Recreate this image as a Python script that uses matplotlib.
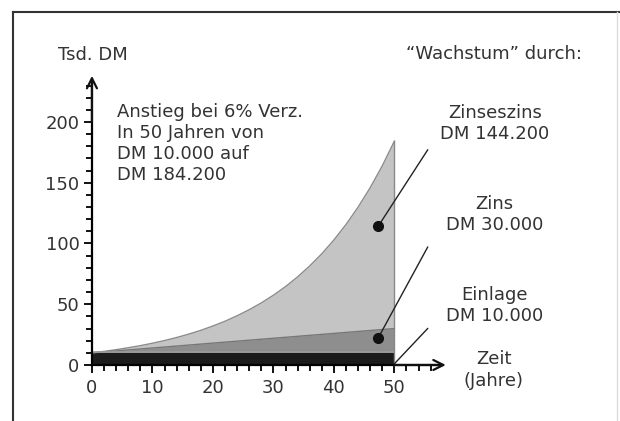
import matplotlib.pyplot as plt
from matplotlib.lines import Line2D
from matplotlib.ticker import MultipleLocator

# values (Tsd. DM)
years = [0, 2, 4, 6, 8, 10, 12, 14, 16, 18, 20, 22, 24, 26, 28, 30,
         32, 34, 36, 38, 40, 42, 44, 46, 48, 50]
total = [10.0, 11.2, 12.6, 14.2, 15.9, 17.9, 20.1, 22.6, 25.4, 28.5, 32.1,
         36.0, 40.5, 45.5, 51.1, 57.4, 64.5, 72.5, 81.5, 91.5, 102.9,
         115.6, 129.9, 145.9, 163.9, 184.2]
zins_years = [0, 50]
zins_top = [10.0, 30.0]
einlage_years = [0, 50]
einlage = [10.0, 10.0]

labels_right = ['Zinseszins\nDM 144.200', 'Zins\nDM 30.000', 'Einlage\nDM 10.000']

plt.rcParams['font.family'] = 'DejaVu Sans'
fig = plt.figure(figsize=(6.2, 4.21), dpi=100)
ax = fig.add_axes([0, 0, 1, 1])
ax.set_xlim(-15.2, 87.3)
ax.set_ylim(-46.1, 300.4)

# stacked areas
ax.fill_between(years, 0, total, color='#c4c4c4', lw=0)
ax.fill_between(zins_years, 0, zins_top, color='#8e8e8e', lw=0)
ax.fill_between(einlage_years, 0, einlage, color='#1c1c1c', lw=0)
ax.plot(years, total, color='#8a8a8a', lw=1)
ax.plot(zins_years, zins_top, color='#777777', lw=1)
ax.plot(einlage_years, [v + 0.7 for v in einlage], color='#9c9c9c', lw=1.2)
ax.plot([50, 50], [0, total[-1]], color='#888888', lw=1)

# axes
for s in ['top', 'right']:
    ax.spines[s].set_visible(False)
ax.spines['left'].set_position(('data', 0))
ax.spines['bottom'].set_position(('data', 0))
ax.spines['left'].set_bounds(0, 232)
ax.spines['bottom'].set_bounds(0, 57)
ax.spines['left'].set_linewidth(1.6)
ax.spines['bottom'].set_linewidth(1.6)
ax.set_xticks([0, 10, 20, 30, 40, 50])
ax.set_yticks([0, 50, 100, 150, 200])
ax.tick_params(which='both', direction='out', width=1.4, colors='#111111',
               labelsize=13, labelcolor='#333333')
ax.tick_params(which='major', length=6)
ax.tick_params(which='minor', length=4.5)
ax.tick_params(axis='x', pad=4)
ax.tick_params(axis='y', pad=3)
# minor ticks only along the drawn axis
ax.set_xticks([t for t in range(2, 57, 2) if t % 10], minor=True)
ax.set_yticks([t for t in range(10, 231, 10) if t % 50], minor=True)

ax.annotate('', xy=(0, 238), xytext=(0, 200),
            arrowprops=dict(arrowstyle='->', lw=1.6, color='#111111',
                            mutation_scale=18, shrinkA=0, shrinkB=0))
ax.annotate('', xy=(58.5, 0), xytext=(50, 0),
            arrowprops=dict(arrowstyle='->', lw=1.6, color='#111111',
                            mutation_scale=18, shrinkA=0, shrinkB=0))

# leader lines and dots
ax.plot([47.3, 55.5], [114, 177], color='#222222', lw=1)
ax.plot([47.3, 55.5], [22, 97], color='#222222', lw=1)
ax.plot([50, 55.5], [1, 30], color='#222222', lw=1)
ax.plot([47.3, 47.3], [114, 22], 'o', color='#111111', ms=7, ls='none')

txt = dict(color='#333333', fontsize=13)
ax.text(-5.6, 255, 'Tsd. DM', ha='left', va='center', **txt)
ax.text(66.4, 256, '\u201cWachstum\u201d durch:', ha='center', va='center', **txt)
ax.text(4.1, 182, 'Anstieg bei 6% Verz.\nIn 50 Jahren von\nDM 10.000 auf\nDM 184.200',
        ha='left', va='center', linespacing=1.22, **txt)
for lab, yy in zip(labels_right, [198.4, 123.9, 49]):
    ax.text(66.6, yy, lab, ha='center', va='center', linespacing=1.22, **txt)
ax.text(66.4, -4.1, 'Zeit\n(Jahre)', ha='center', va='center', linespacing=1.22, **txt)

# outer frame
fig.add_artist(Line2D([0.021, 1.0], [0.9715, 0.9715], color='#333333', lw=1.5))
fig.add_artist(Line2D([0.021, 0.021], [0.0, 0.9715], color='#333333', lw=1.5))
fig.add_artist(Line2D([0.995, 0.995], [0.0, 0.9715], color='#dddddd', lw=1))

plt.savefig('out.png', dpi=100)
